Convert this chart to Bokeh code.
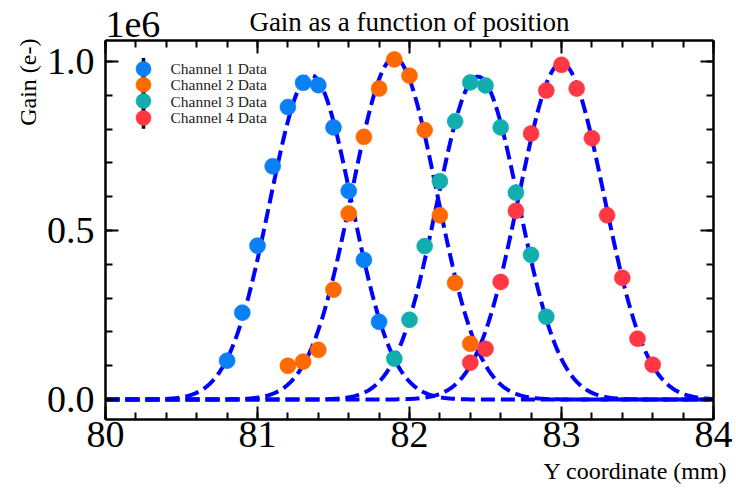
import numpy as np
from bokeh.plotting import figure
from bokeh.models import (LinearAxis, FixedTicker, PrintfTickFormatter, Range1d, Label, Title,
                          CustomJSTickFormatter)
from bokeh.embed import file_html
from bokeh.resources import INLINE

# ---- data (gain in units of 1e6 electrons) ----
ch1_x = [80.8, 80.9, 81.0, 81.1, 81.2, 81.3, 81.4, 81.5, 81.6, 81.7, 81.8]
ch1_y = [0.115, 0.257, 0.455, 0.690, 0.865, 0.937, 0.930, 0.805, 0.617, 0.413, 0.230]
ch2_x = [81.2, 81.3, 81.4, 81.5, 81.6, 81.7, 81.8, 81.9, 82.0, 82.1, 82.2, 82.3, 82.4]
ch2_y = [0.100, 0.112, 0.147, 0.325, 0.550, 0.777, 0.920, 1.006, 0.958, 0.797, 0.545, 0.345, 0.165]
ch3_x = [81.9, 82.0, 82.1, 82.2, 82.3, 82.4, 82.5, 82.6, 82.7, 82.8, 82.9]
ch3_y = [0.121, 0.236, 0.454, 0.646, 0.823, 0.938, 0.929, 0.805, 0.612, 0.428, 0.245]
ch4_x = [82.4, 82.5, 82.6, 82.7, 82.8, 82.9, 83.0, 83.1, 83.2, 83.3, 83.4, 83.5, 83.6]
ch4_y = [0.109, 0.150, 0.348, 0.558, 0.787, 0.914, 0.990, 0.920, 0.773, 0.545, 0.360, 0.180, 0.103]

channel_labels = ["Channel 1  Data", "Channel 2  Data", "Channel 3  Data", "Channel 4  Data"]
channel_colors = ["#0b80f5", "#ff6a00", "#12adad", "#ff3844"]

# Gaussian fit parameters (amplitude, mean, sigma) per channel
fit_amp = [0.960, 1.010, 0.955, 0.995]
fit_mean = [81.35, 81.90, 82.45, 83.00]
fit_sigma = [0.27, 0.28, 0.27, 0.28]

x_ticks = [80, 81, 82, 83, 84]
x_minor = [round(80 + 0.2 * i, 1) for i in range(21)]
y_ticks = [0, 0.5, 1]
y_minor = [round(0.1 * i, 1) for i in range(11)]

x_lo, x_hi = 80.0, 84.0
y_lo, y_hi = -0.059, 1.062

offset_text = "1e6"
offset_text_x = 80.18          # centre of the "1e6" scale text above the frame
title_text = "Gain as a function of position"

SERIF = "Liberation Serif"

p = figure(width=736, height=489, output_backend="svg", toolbar_location=None,
           x_range=Range1d(x_lo, x_hi), y_range=Range1d(y_lo, y_hi),
           x_axis_location=None, y_axis_location=None, title=None,
           min_border_left=105, min_border_right=23, min_border_top=40, min_border_bottom=69)
p.grid.visible = False
p.outline_line_color = None
p.background_fill_color = "white"
p.border_fill_color = "white"


def make_axis(ticker, show, fmt=None):
    ax = LinearAxis(ticker=ticker)
    if fmt is not None:
        ax.formatter = fmt
    ax.axis_line_width = 2.5
    ax.axis_line_color = "black"
    ax.major_tick_in = 13
    ax.major_tick_out = 0
    ax.minor_tick_in = 7
    ax.minor_tick_out = 0
    ax.major_tick_line_width = 2
    ax.minor_tick_line_width = 2
    ax.major_label_text_font = SERIF
    ax.major_label_text_color = "black"
    if show:
        ax.major_label_text_font_size = "38px"
        ax.major_label_standoff = 2
    else:
        ax.formatter = CustomJSTickFormatter(code="return ''")
        ax.major_label_text_font_size = "0px"
        ax.major_label_standoff = 0
    return ax


xt = FixedTicker(ticks=x_ticks, minor_ticks=x_minor)
yt = FixedTicker(ticks=y_ticks, minor_ticks=y_minor)
yfmt = PrintfTickFormatter(format="%.1f")

p.add_layout(make_axis(xt, True), "below")
p.add_layout(make_axis(xt, False), "above")

# outer top axis: carries only the "1e6" scale text and the chart title
scale_axis = LinearAxis(ticker=FixedTicker(ticks=[offset_text_x], minor_ticks=[]),
                        formatter=CustomJSTickFormatter(code="return '%s'" % offset_text))
scale_axis.axis_line_color = None
scale_axis.major_tick_line_color = None
scale_axis.minor_tick_line_color = None
scale_axis.major_tick_in = 0
scale_axis.major_tick_out = 0
scale_axis.major_label_text_font = SERIF
scale_axis.major_label_text_font_size = "38px"
scale_axis.major_label_text_color = "black"
scale_axis.major_label_standoff = 4
scale_axis.axis_label = title_text
scale_axis.axis_label_text_font = SERIF
scale_axis.axis_label_text_font_size = "27px"
scale_axis.axis_label_text_font_style = "normal"
scale_axis.axis_label_text_color = "black"
scale_axis.axis_label_standoff = -28
p.add_layout(scale_axis, "above")

ly = make_axis(yt, True, yfmt)
ly.major_label_standoff = 11
p.add_layout(ly, "left")
p.add_layout(make_axis(yt, False), "right")

# axis labels as titles in the side panels
p.add_layout(Title(text="Y coordinate (mm)", align="right", offset=-14, standoff=12,
                   text_font=SERIF, text_font_size="24px", text_font_style="normal",
                   text_color="black"), "below")
p.add_layout(Title(text="Gain (e-)", align="right", offset=-2, standoff=6,
                   text_font=SERIF, text_font_size="24px", text_font_style="normal",
                   text_color="black"), "left")

# fit curves
xs = np.linspace(x_lo, x_hi, 600)
for a, m, s in zip(fit_amp, fit_mean, fit_sigma):
    p.line(xs, a * np.exp(-(xs - m) ** 2 / (2 * s ** 2)), line_color="#0000ff",
           line_width=4, line_dash="14 6")

# data points
for xv, yv, c in zip([ch1_x, ch2_x, ch3_x, ch4_x], [ch1_y, ch2_y, ch3_y, ch4_y], channel_colors):
    p.scatter(xv, yv, size=16, fill_color=c, line_color=c, line_alpha=0.6)

# manual legend
leg_x = 80.25
leg_y = [0.978, 0.931, 0.883, 0.833]
p.segment(x0=[leg_x] * 4, x1=[leg_x] * 4, y0=[v - 0.032 for v in leg_y],
          y1=[v + 0.032 for v in leg_y], line_color="black", line_width=3.5)
p.scatter([leg_x] * 4, leg_y, size=15, fill_color=channel_colors, line_color=channel_colors,
          line_alpha=0.6)
for lab, yv in zip(channel_labels, leg_y):
    p.add_layout(Label(x=leg_x, y=yv, x_offset=27, text=lab, text_font=SERIF,
                       text_font_size="15.5px", text_color="#222222",
                       text_align="left", text_baseline="middle"))

open("out.html", "w").write(file_html(p, INLINE))
